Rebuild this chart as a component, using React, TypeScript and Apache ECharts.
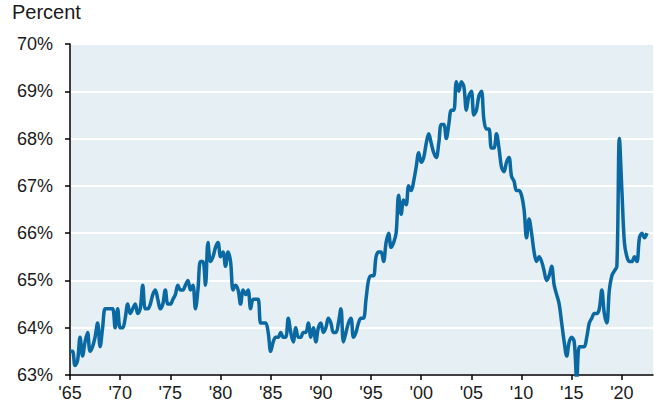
import React, { useEffect, useRef } from "react";
import * as echarts from "echarts";

// Quarterly rate, percent (first year 1965, Q1..Q4)
const startYear = 1965;
const rates: number[][] = [
  [63.5, 63.5, 63.2, 63.3], // 1965
  [63.8, 63.4, 63.7, 63.9], // 1966
  [63.5, 63.6, 63.8, 64.1], // 1967
  [63.6, 64.0, 64.4, 64.4], // 1968
  [64.4, 64.4, 64.0, 64.4], // 1969
  [64.0, 64.0, 64.2, 64.5], // 1970
  [64.3, 64.4, 64.5, 64.3], // 1971
  [64.4, 64.9, 64.4, 64.4], // 1972
  [64.5, 64.7, 64.8, 64.6], // 1973
  [64.4, 64.5, 64.8, 64.5], // 1974
  [64.5, 64.6, 64.7, 64.9], // 1975
  [64.8, 64.8, 64.9, 65.0], // 1976
  [64.8, 64.9, 64.4, 64.8], // 1977
  [65.4, 65.4, 64.9, 65.8], // 1978
  [65.4, 65.5, 65.7, 65.8], // 1979
  [65.5, 65.6, 65.3, 65.6], // 1980
  [65.4, 64.8, 64.9, 64.8], // 1981
  [64.5, 64.8, 64.7, 64.8], // 1982
  [64.4, 64.6, 64.6, 64.6], // 1983
  [64.1, 64.1, 64.1, 63.9], // 1984
  [63.5, 63.7, 63.8, 63.8], // 1985
  [63.9, 63.8, 63.8, 64.2], // 1986
  [63.9, 63.7, 64.0, 63.8], // 1987
  [63.8, 63.9, 63.9, 64.1], // 1988
  [63.8, 64.0, 63.7, 64.0], // 1989
  [64.1, 63.9, 64.0, 64.2], // 1990
  [64.1, 63.9, 63.9, 64.1], // 1991
  [64.4, 63.7, 63.9, 64.1], // 1992
  [64.2, 63.8, 63.9, 64.1], // 1993
  [64.2, 64.2, 64.6, 65.0], // 1994
  [65.1, 65.1, 65.5, 65.6], // 1995
  [65.6, 65.4, 65.8, 66.0], // 1996
  [65.7, 65.8, 66.0, 66.8], // 1997
  [66.4, 66.7, 66.6, 67.0], // 1998
  [66.9, 67.1, 67.4, 67.7], // 1999
  [67.5, 67.6, 67.9, 68.1], // 2000
  [67.9, 67.7, 67.6, 67.9], // 2001
  [68.3, 68.3, 68.0, 68.3], // 2002
  [68.6, 68.6, 69.2, 69.0], // 2003
  [69.2, 69.1, 68.6, 68.9], // 2004
  [69.0, 68.5, 68.6, 68.9], // 2005
  [69.0, 68.4, 68.2, 68.2], // 2006
  [67.8, 67.8, 68.1, 67.8], // 2007
  [67.4, 67.3, 67.5, 67.6], // 2008
  [67.2, 67.1, 66.9, 66.9], // 2009
  [66.8, 66.5, 65.9, 66.3], // 2010
  [66.0, 65.6, 65.4, 65.5], // 2011
  [65.4, 65.2, 65.0, 65.1], // 2012
  [65.3, 64.9, 64.7, 64.5], // 2013
  [64.1, 63.7, 63.4, 63.7], // 2014
  [63.8, 63.7, 62.9, 63.6], // 2015
  [63.6, 63.6, 63.8, 64.1], // 2016
  [64.2, 64.3, 64.3, 64.4], // 2017
  [64.8, 64.3, 64.1, 64.8], // 2018
  [65.1, 65.2, 65.3, 68.0], // 2019
  [66.9, 65.8, 65.5, 65.4], // 2020
  [65.4, 65.5, 65.4, 65.9], // 2021
  [66.0, 65.9, 66.0], // 2022
];

const xTickYears = [1965, 1970, 1975, 1980, 1985, 1990, 1995, 2000, 2005, 2010, 2015, 2020];
const yTicks = [63, 64, 65, 66, 67, 68, 69, 70];

export default function App() {
  const ref = useRef<HTMLDivElement>(null);
  useEffect(() => {
    if (!ref.current) return;
    document.body.style.margin = "0";
    const chart = echarts.init(ref.current, undefined, { renderer: "svg" });
    const points: [number, number][] = [];
    rates.forEach((yr, i) => {
      yr.forEach((v, q) => points.push([startYear + i + q / 4, v]));
    });
    const font = "Arial, 'Liberation Sans', Helvetica, sans-serif";
    chart.setOption({
      animation: false,
      graphic: [
        {
          type: "text",
          left: 12,
          top: 2,
          style: { text: "Percent", font: `20px ${font}`, fill: "#1a1a1a" },
        },
      ],
      grid: {
        left: 70,
        right: 1,
        top: 44,
        bottom: 33,
        show: true,
        backgroundColor: "#e6eff3",
        borderWidth: 0,
      },
      xAxis: {
        type: "value",
        min: 1965,
        max: 2023.1,
        interval: 5,
        axisLine: { show: true, onZero: false, lineStyle: { color: "#000", width: 1.5 } },
        axisTick: {
          show: true,
          length: 5,
          customValues: xTickYears,
          lineStyle: { color: "#000", width: 1.5 },
        },
        axisLabel: {
          customValues: xTickYears,
          formatter: (v: number) => "'" + String(Math.round(v)).slice(2),
          fontSize: 18,
          fontFamily: font,
          color: "#1a1a1a",
          margin: 9,
        },
        splitLine: { show: false },
      },
      yAxis: {
        type: "value",
        min: yTicks[0],
        max: yTicks[yTicks.length - 1],
        interval: 1,
        axisLine: { show: true, lineStyle: { color: "#000", width: 1.5 } },
        axisTick: { show: true, length: 5, lineStyle: { color: "#000", width: 1.5 } },
        axisLabel: {
          formatter: "{value}%",
          fontSize: 18,
          fontFamily: font,
          color: "#1a1a1a",
          margin: 17,
        },
        splitLine: { show: true, lineStyle: { color: "#ffffff", width: 2 } },
      },
      series: [
        {
          type: "line",
          data: points,
          showSymbol: false,
          smooth: 0.35,
          clip: true,
          lineStyle: { color: "#0a69a2", width: 3.5 },
        },
      ],
    });
    return () => chart.dispose();
  }, []);
  return <div ref={ref} style={{ width: 654, height: 408 }} />;
}
